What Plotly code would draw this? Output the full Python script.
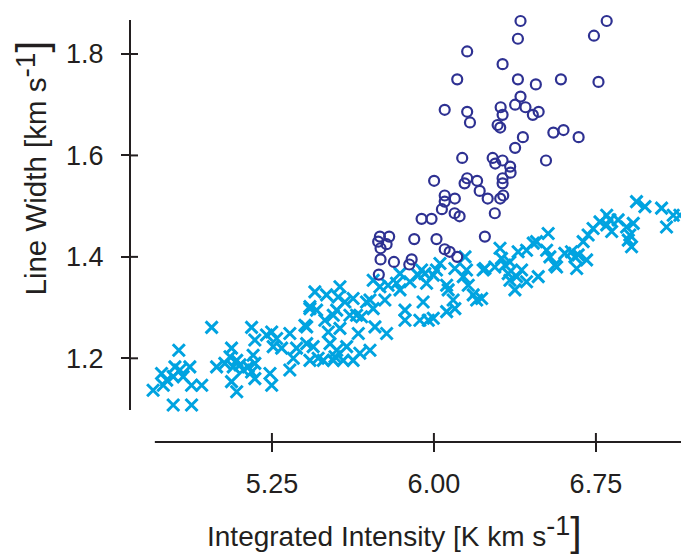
import plotly.graph_objects as go

# Circles (upper group)
circ_x = [6.401, 6.80, 6.389, 6.741, 6.154, 6.318, 6.108, 6.389, 6.472, 6.588,
          6.762, 6.401, 6.05, 6.154, 6.167, 6.309, 6.376, 6.424, 6.318, 6.458,
          6.485, 6.295, 6.307, 6.553, 6.60, 6.67, 6.412, 6.376, 6.131, 6.272,
          6.284, 6.318, 6.353, 6.355, 6.519, 6.001, 6.154, 6.142, 6.20, 6.212,
          6.318, 6.318, 6.05, 6.097, 6.05, 6.037, 6.249, 6.307, 6.321, 6.096,
          6.119, 6.282, 5.943, 5.989, 5.75, 5.793, 5.742, 5.781, 5.753, 5.909,
          6.012, 6.05, 6.073, 6.108, 6.236, 5.753, 5.815, 5.897, 5.886, 5.745]
circ_y = [1.865, 1.865, 1.830, 1.836, 1.805, 1.780, 1.750, 1.750, 1.740, 1.750,
          1.745, 1.716, 1.690, 1.686, 1.665, 1.695, 1.700, 1.695, 1.680, 1.680,
          1.686, 1.660, 1.655, 1.645, 1.650, 1.636, 1.636, 1.615, 1.595, 1.595,
          1.584, 1.590, 1.578, 1.566, 1.590, 1.550, 1.555, 1.545, 1.550, 1.530,
          1.555, 1.545, 1.521, 1.515, 1.509, 1.494, 1.515, 1.515, 1.521, 1.486,
          1.480, 1.486, 1.475, 1.475, 1.440, 1.440, 1.430, 1.425, 1.417, 1.435,
          1.435, 1.415, 1.410, 1.400, 1.440, 1.395, 1.390, 1.395, 1.385, 1.365]

# Crosses (lower group)
cross_x = [4.971, 4.819, 5.156, 5.171, 5.225, 5.249, 5.272, 5.256, 5.295, 5.333,
           5.403, 5.449, 5.426, 5.457, 5.503, 5.364, 5.411, 5.441, 5.349, 5.426,
           5.464, 5.333, 5.063, 5.056, 5.087, 4.994, 5.032, 5.071, 5.102, 5.140,
           5.163, 5.171, 5.117, 5.156, 5.171, 5.063, 5.087, 5.241, 5.249, 4.801,
           4.739, 4.763, 4.793, 4.824, 4.839, 4.870, 4.878, 4.925, 4.700, 4.747,
           4.793, 4.878,
           5.719, 5.750, 5.788, 5.843, 5.827, 5.843, 5.889, 5.927, 5.943, 5.958,
           5.966, 6.012, 6.028, 5.997, 6.059, 6.066, 6.097, 6.144, 6.151, 6.136,
           6.159, 6.182, 6.198, 6.228, 6.282, 6.089, 6.097, 6.059, 5.950, 5.935,
           5.974, 5.997, 5.866, 5.866, 5.773, 5.781, 5.727, 5.719, 5.688, 5.665,
           5.650, 5.704, 5.657, 5.626, 5.580, 5.550, 5.534, 5.596, 5.565, 5.511,
           5.495, 5.534, 5.550, 5.611, 5.642, 5.426, 5.411, 5.565, 5.557, 5.588,
           5.626, 5.704, 5.519, 5.542, 5.488,
           6.306, 6.313, 6.352, 6.390, 6.429, 6.460, 6.475, 6.529, 6.522, 6.537,
           6.560, 6.568, 6.606, 6.637, 6.653, 6.668, 6.661, 6.707, 6.691, 6.714,
           6.737, 6.769, 6.800, 6.815, 6.823, 6.800, 6.853, 6.892, 6.923, 6.907,
           6.915, 6.900, 6.938, 6.977, 7.054, 7.108, 7.077, 6.344, 6.352, 6.375,
           6.406, 6.429, 6.483, 6.383, 6.236, 6.221, 6.329, 7.139]
cross_y = [1.261, 1.216, 1.261, 1.236, 1.246, 1.252, 1.239, 1.223, 1.220, 1.249,
           1.265, 1.331, 1.302, 1.295, 1.325, 1.220, 1.229, 1.223, 1.200, 1.196,
           1.200, 1.177, 1.220, 1.203, 1.196, 1.183, 1.190, 1.183, 1.187, 1.183,
           1.206, 1.190, 1.177, 1.173, 1.160, 1.154, 1.134, 1.170, 1.147, 1.183,
           1.170, 1.157, 1.164, 1.177, 1.164, 1.183, 1.147, 1.147, 1.137, 1.147,
           1.108, 1.108,
           1.354, 1.341, 1.344, 1.367, 1.348, 1.335, 1.351, 1.364, 1.374, 1.367,
           1.348, 1.374, 1.387, 1.364, 1.344, 1.335, 1.377, 1.400, 1.374, 1.361,
           1.344, 1.325, 1.315, 1.374, 1.380, 1.315, 1.298, 1.292, 1.311, 1.275,
           1.275, 1.279, 1.295, 1.275, 1.315, 1.249, 1.262, 1.298, 1.311, 1.282,
           1.249, 1.216, 1.210, 1.196, 1.196, 1.216, 1.196, 1.223, 1.259, 1.252,
           1.275, 1.285, 1.295, 1.285, 1.285, 1.298, 1.262, 1.341, 1.321, 1.311,
           1.318, 1.315, 1.229, 1.203, 1.196,
           1.417, 1.397, 1.390, 1.410, 1.413, 1.427, 1.430, 1.446, 1.413, 1.400,
           1.384, 1.380, 1.407, 1.410, 1.400, 1.404, 1.377, 1.394, 1.430, 1.443,
           1.456, 1.469, 1.482, 1.473, 1.450, 1.463, 1.473, 1.459, 1.466, 1.443,
           1.420, 1.433, 1.509, 1.499, 1.496, 1.482, 1.459, 1.367, 1.354, 1.335,
           1.374, 1.351, 1.361, 1.361, 1.377, 1.318, 1.384, 1.482]

x_ticks = [5.25, 6.00, 6.75]
x_tick_text = ["5.25", "6.00", "6.75"]
y_ticks = [1.2, 1.4, 1.6, 1.8]
y_tick_text = ["1.2", "1.4", "1.6", "1.8"]

X_RANGE = [4.593, 7.144]
Y_RANGE = [1.035, 1.867]
X_LINE_START = 4.708
Y_LINE_START = 1.098

TEXT = "#231f20"
FONT = "Liberation Sans, Arial, sans-serif"
CYAN = "#00a3e0"
NAVY = "#2e3192"


def unit(sup_px, br_px):
    return ("s<span style='font-size:%dpx;baseline-shift:40%%'>-1</span>"
            "<span style='font-size:%dpx'>]</span>" % (sup_px, br_px))


X_TITLE = "Integrated Intensity [K km " + unit(27, 41)
Y_TITLE = "Line Width [km " + unit(28, 43)

fig = go.Figure()
fig.add_trace(go.Scatter(
    x=cross_x, y=cross_y, mode="markers",
    marker=dict(symbol="x-thin", size=12, line=dict(color=CYAN, width=3), color=CYAN),
    cliponaxis=False, showlegend=False))
fig.add_trace(go.Scatter(
    x=circ_x, y=circ_y, mode="markers",
    marker=dict(symbol="circle-open", size=10, line=dict(color=NAVY, width=2.2), color=NAVY),
    cliponaxis=False, showlegend=False))

shapes = [
    dict(type="line", xref="paper", yref="y", x0=0, x1=0, y0=Y_LINE_START, y1=Y_RANGE[1],
         line=dict(color=TEXT, width=2)),
    dict(type="line", xref="x", yref="paper", x0=X_LINE_START, x1=X_RANGE[1], y0=0, y1=0,
         line=dict(color=TEXT, width=2)),
]
for v in x_ticks:
    shapes.append(dict(type="line", xref="x", yref="paper", x0=v, x1=v, y0=0, y1=9 / 422,
                       line=dict(color=TEXT, width=2)))
for v in y_ticks:
    shapes.append(dict(type="line", xref="paper", yref="y", x0=0, x1=8 / 551, y0=v, y1=v,
                       line=dict(color=TEXT, width=2)))

fig.update_layout(
    width=681, height=555,
    margin=dict(l=130, r=0, t=20, b=113),
    paper_bgcolor="white", plot_bgcolor="white",
    font=dict(family=FONT, color=TEXT, size=27),
    shapes=shapes,
    xaxis=dict(range=X_RANGE, showgrid=False, zeroline=False, showline=False,
               tickmode="array", tickvals=x_ticks, ticktext=x_tick_text,
               ticks="outside", ticklen=9, tickwidth=2, tickcolor=TEXT,
               ticklabelstandoff=9, tickfont=dict(size=27, family=FONT, color=TEXT)),
    yaxis=dict(range=Y_RANGE, showgrid=False, zeroline=False, showline=False,
               tickmode="array", tickvals=y_ticks, ticktext=y_tick_text,
               ticks="outside", ticklen=8, tickwidth=2, tickcolor=TEXT,
               ticklabelstandoff=12, tickfont=dict(size=27, family=FONT, color=TEXT)),
    annotations=[
        dict(text=X_TITLE, xref="paper", yref="paper",
             x=(205 - 130) / 551, y=-(532 - 442) / 422, xanchor="left", yanchor="middle",
             showarrow=False, font=dict(size=28, family=FONT, color=TEXT)),
        dict(text=Y_TITLE, xref="paper", yref="paper",
             x=(30 - 130) / 551, y=(442 - 298) / 422, xanchor="center", yanchor="bottom",
             textangle=-90, showarrow=False, font=dict(size=29.5, family=FONT, color=TEXT)),
    ],
)

fig.write_html("out.html")
